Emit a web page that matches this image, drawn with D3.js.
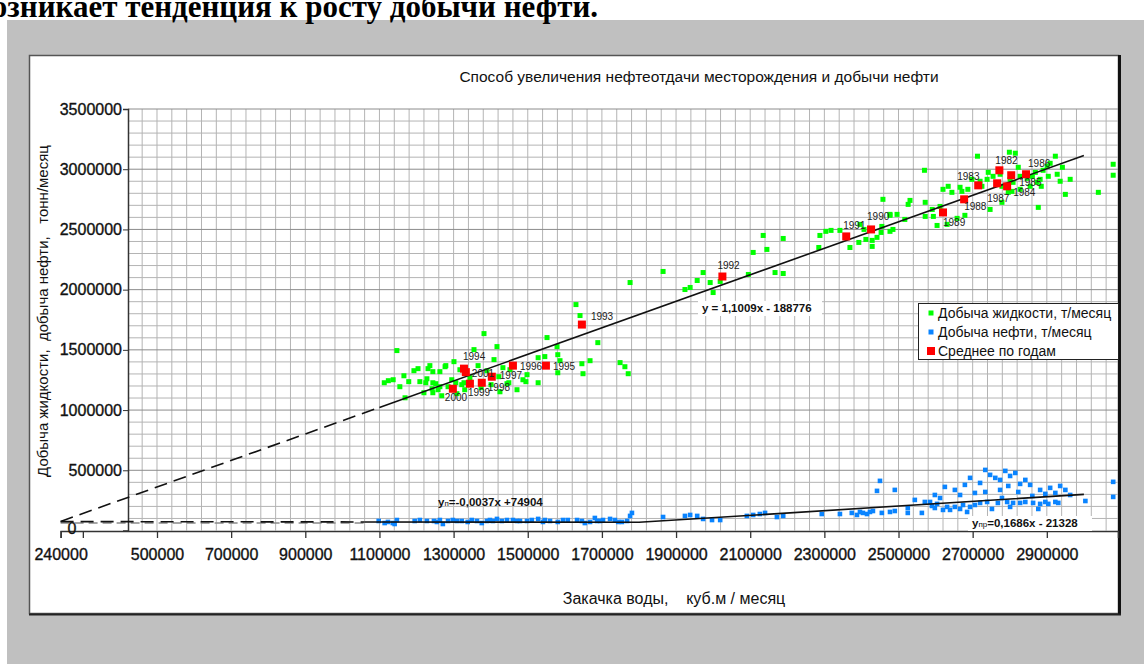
<!DOCTYPE html>
<html lang="ru">
<head>
<meta charset="utf-8">
<script src="https://d3js.org/d3.v7.min.js"></script>
<style>
  body { margin: 0; background: #fff; }
  svg text { font-family: "Liberation Sans", Arial, sans-serif; fill: #111; }
</style>
</head>
<body>
<svg id="chart" width="1144" height="664"></svg>
<script>
// ---- data ----
var xTicks = [240000, 300000, 500000, 700000, 900000, 1100000, 1300000, 1500000, 1700000, 1900000, 2100000, 2300000, 2500000, 2700000, 2900000];
var xTickLabels = ["240000", "", "500000", "700000", "900000", "1100000", "1300000", "1500000", "1700000", "1900000", "2100000", "2300000", "2500000", "2700000", "2900000"];
var yTicks = [500000, 1000000, 1500000, 2000000, 2500000, 3000000, 3500000];

// Добыча жидкости, т/месяц  [закачка, добыча]
var liquid = [
  [1113000,1227000],[1124000,1244000],[1137000,1252000],[1147000,1494000],[1155000,1194000],[1166000,1285000],
  [1169000,1102000],[1179000,1236000],[1193000,1327000],[1204000,1344000],[1209000,1236000],[1220000,1144000],
  [1228000,1260000],[1236000,1369000],[1242000,1177000],[1252000,1219000],[1263000,1319000],[1268000,1119000],
  [1279000,1369000],[1285000,1194000],[1295000,1252000],[1301000,1402000],[1309000,1136000],[1317000,1335000],
  [1322000,1211000],[1330000,1169000],[1344000,1269000],[1355000,1502000],[1366000,1369000],[1374000,1186000],
  [1382000,1635000],[1390000,1327000],[1401000,1211000],[1409000,1419000],[1417000,1527000],[1425000,1152000],
  [1433000,1352000],[1444000,1219000],[1452000,1335000],[1231000,1344000],[1244000,1319000],[1277000,1360000],
  [1225000,1227000],[1244000,1227000],[1263000,1194000],[1244000,1144000],[1258000,1169000],[1306000,1227000],
  [1328000,1227000],[1449000,1227000],[1422000,1277000],[1471000,1169000],[1487000,1252000],[1495000,1236000],
  [1498000,1294000],[1528000,1227000],[1528000,1435000],[1546000,1444000],[1552000,1602000],[1579000,1527000],
  [1581000,1460000],[1587000,1410000],[1581000,1310000],[1646000,1385000],[1649000,1302000],[1668000,1410000],
  [1630000,1876000],[1641000,1785000],[1689000,1560000],[1749000,1394000],[1762000,1360000],[1771000,1302000],
  [1776000,2059000],[1865000,2151000],[1924000,2001000],[1938000,2018000],[1957000,2076000],[1973000,2142000],
  [1992000,2059000],[2000000,1976000],[2019000,2068000],[2095000,2126000],[2108000,2309000],[2135000,2450000],
  [2145000,2334000],[2167000,2142000],[2189000,2134000],[2189000,2425000],[2288000,2450000],[2304000,2484000],
  [2318000,2492000],[2285000,2350000],[2342000,2492000],[2369000,2350000],[2393000,2392000],[2407000,2500000],
  [2429000,2409000],[2429000,2359000],[2453000,2475000],[2477000,2484000],[2477000,2625000],[2496000,2625000],
  [2458000,2750000],[2713000,3108000],[2570000,2991000],[2799000,3141000],[2815000,3133000],[2923000,3108000],
  [2531000,2741000],[2526000,2708000],[2572000,2725000],[2591000,2666000],[2594000,2608000],[2572000,2608000],
  [2612000,2691000],[2620000,2833000],[2634000,2858000],[2644000,2808000],[2666000,2850000],[2671000,2816000],
  [2687000,2833000],[2679000,2617000],[2658000,2592000],[2631000,2542000],[2604000,2533000],[2477000,2617000],
  [2485000,2500000],[2455000,2525000],[2698000,2916000],[2720000,2900000],[2739000,2916000],[2725000,2858000],
  [2742000,2974000],[2755000,2941000],[2774000,2958000],[2779000,2858000],[2801000,2916000],[2806000,2816000],
  [2809000,2891000],[2747000,2666000],[2779000,2725000],[2796000,2808000],[2823000,3016000],[2828000,2941000],
  [2847000,2924000],[2861000,2941000],[2869000,2974000],[2874000,2891000],[2882000,2916000],[2890000,2991000],
  [2901000,3024000],[2904000,2941000],[2909000,3049000],[2928000,2958000],[2877000,2683000],[2950000,2791000],
  [2885000,2858000],[2855000,2858000],[2828000,2833000],[3079000,3041000],[3079000,2950000],[3039000,2808000],
  [2942000,3016000],[2963000,2916000],[2936000,2900000],[2442000,2434000],[2412000,2417000],[2396000,2542000],
  [2517000,2583000]
];

// Добыча нефти, т/месяц
var oil = [
  [1098000,79000],[1123000,71000],[1136000,62000],[1147000,87000],[1209000,87000],[1228000,79000],[1247000,79000],
  [1255000,71000],[1271000,54000],[1285000,79000],[1298000,87000],[1309000,79000],[1322000,79000],[1363000,79000],
  [1376000,62000],[1390000,79000],[1398000,87000],[1406000,79000],[1417000,96000],[1430000,79000],[1460000,87000],
  [1471000,79000],[1479000,79000],[1498000,79000],[1528000,96000],[1541000,71000],[1560000,79000],[1581000,71000],
  [1595000,87000],[1633000,87000],[1646000,79000],[1654000,62000],[1668000,71000],[1687000,79000],[1703000,87000],
  [1722000,96000],[1754000,71000],[1768000,79000],[1776000,121000],[1781000,146000],[1865000,112000],[1924000,121000],
  [1938000,129000],[1957000,121000],[1973000,96000],[1997000,87000],[2019000,87000],[1114000,62000],[1141000,54000],
  [1195000,79000],[1263000,87000],[1338000,71000],[1349000,87000],[1444000,87000],[1511000,87000],[1546000,87000],
  [1608000,87000],[1681000,104000],[1695000,79000],[1735000,87000],[1744000,71000],
  [2091000,121000],[2108000,129000],[2126000,137000],[2140000,146000],[2172000,112000],[2189000,121000],[2293000,137000],
  [2342000,137000],[2374000,146000],[2388000,129000],[2396000,154000],[2404000,146000],[2415000,137000],[2423000,154000],
  [2431000,162000],[2442000,329000],[2455000,146000],[2477000,154000],[2490000,162000],[2525000,146000],[2525000,187000],
  [2563000,146000],[2585000,237000],[2590000,204000],[2598000,187000],[2604000,221000],[2620000,171000],[2631000,196000],
  [2639000,171000],[2652000,196000],[2666000,179000],[2674000,212000],[2685000,154000],[2693000,196000],[2706000,212000],
  [2720000,229000],[2739000,237000],[2752000,179000],[2768000,229000],[2793000,237000],[2801000,196000],[2809000,229000],
  [2828000,229000],[2842000,237000],[2863000,229000],[2877000,179000],[2882000,221000],[2896000,237000],[2904000,221000],
  [2923000,237000],[2931000,229000],[3004000,245000],
  [2450000,412000],[2490000,337000],[2544000,254000],[2598000,295000],[2625000,362000],[2652000,337000],[2679000,379000],
  [2693000,437000],[2720000,395000],[2734000,503000],[2747000,462000],[2761000,437000],[2774000,337000],[2788000,495000],
  [2801000,453000],[2815000,478000],[2828000,387000],[2842000,420000],[2855000,379000],[2882000,337000],[2896000,304000],
  [2909000,354000],[2936000,370000],[2963000,295000],[3079000,404000],[3079000,279000],[2734000,320000],[2666000,295000],
  [2779000,270000],[2823000,320000],[2861000,287000],[2923000,312000],[2950000,337000],[2612000,270000],[2706000,312000],
  [2571000,237000],[2774000,420000],[2796000,370000]
];

// Среднее по годам  [год, закачка, добыча]
var yearly = [
  [1982,2772000,2991000],[1983,2715000,2866000],[1984,2793000,2858000],[1985,2804000,2950000],
  [1986,2844000,2958000],[1987,2766000,2883000],[1988,2677000,2750000],[1989,2620000,2641000],
  [1990,2426000,2500000],[1991,2359000,2442000],[1992,2025000,2109000],[1993,1646000,1710000],
  [1994,1328000,1344000],[1995,1549000,1369000],[1996,1460000,1369000],[1997,1403000,1277000],
  [1998,1376000,1227000],[1999,1344000,1219000],[2000,1298000,1177000],[2001,1333000,1315000]
];

// trend lines (end points)
var liquidTrendDash = [[240000, 75000], [1100000, 1022000]];
var liquidTrend = [[1100000, 1022000], [3000000, 3114000]];
var oilTrendDash = [[240000, 74000], [1060000, 71000]];
var oilTrend = [[1060000, 71000], [1800000, 68000], [3000000, 300000]];
var oilGrayDash = [[240000, 62000], [1060000, 62000]];

// label placement of the year marks (px, relative to the square)
var yearLabelOffset = {
  1982:[-4,-6], 1983:[-21,-5], 1984:[6,10], 1985:[8,11], 1986:[2,-7], 1987:[-10,19], 1988:[0,11], 1989:[0,14],
  1990:[-4,-9], 1991:[-3,-7], 1992:[-5,-8], 1993:[9,-5], 1994:[-1,-9], 1995:[7,4], 1996:[7,4], 1997:[8,2],
  1998:[6,8], 1999:[-2,12], 2000:[-8,12], 2001:[6,5]
};

// ---- drawing ----
var svg = d3.select("#chart");

svg.append("rect").attr("x", 7).attr("y", 20).attr("width", 1137).attr("height", 644).attr("fill", "#c0c0c0");

// line of the surrounding document, cut at the top as in the scan
svg.append("text")
  .attr("x", 598).attr("y", 17)
  .attr("text-anchor", "end")
  .style("font-family", "'Liberation Serif', 'Times New Roman', serif")
  .style("font-weight", "bold")
  .style("font-size", "31px")
  .style("fill", "#000")
  .text("возникает тенденция к росту добычи нефти.");

// chart box
svg.append("rect").attr("x", 29.5).attr("y", 55.5).attr("width", 1089).attr("height", 558)
  .attr("fill", "#fff").attr("stroke", "#555").attr("stroke-width", 1.5);
svg.append("line").attr("x1", 1119.5).attr("x2", 1119.5).attr("y1", 55).attr("y2", 615)
  .attr("stroke", "#111").attr("stroke-width", 3);
svg.append("line").attr("x1", 29).attr("x2", 1121).attr("y1", 614.5).attr("y2", 614.5)
  .attr("stroke", "#222").attr("stroke-width", 2);

var x = d3.scaleLinear().domain([240000, 3092000]).range([60.6, 1118]);
var y = d3.scaleLinear().domain([0, 3500000]).range([530.5, 109]);

var plotLeft = 128, plotRight = 1118;

// grid
var grid = svg.append("g");
grid.selectAll(".vg").data(d3.range(460000, 3092000, 40000)).enter().append("line")
  .attr("x1", d => x(d)).attr("x2", d => x(d)).attr("y1", y(3500000)).attr("y2", y(0))
  .attr("stroke", "#b4b4b4").attr("stroke-width", 1);
grid.selectAll(".hg").data(d3.range(100000, 3500001, 100000)).enter().append("line")
  .attr("x1", plotLeft).attr("x2", plotRight).attr("y1", d => y(d)).attr("y2", d => y(d))
  .attr("stroke", d => d % 500000 === 0 ? "#8c8c8c" : "#b4b4b4").attr("stroke-width", 1);

// axes
var xAxis = d3.axisBottom(x).tickValues(xTicks).tickSize(7).tickPadding(11)
  .tickFormat((d, i) => xTickLabels[i]);
var gx = svg.append("g").attr("transform", "translate(0,531)").call(xAxis);
gx.select(".domain").attr("stroke", "#333").attr("stroke-width", 1.5);
gx.selectAll(".tick line").attr("stroke", "#333").attr("stroke-width", 1.3);
gx.selectAll("text").style("font-size", "16px").style("fill", "#111")
  .style("stroke", "#111").style("stroke-width", 0.35);

var yAxis = d3.axisLeft(y).tickValues(yTicks).tickSize(5).tickPadding(1)
  .tickFormat(d3.format("d"));
var gy = svg.append("g").attr("transform", "translate(" + plotLeft + ",0)").call(yAxis);
gy.select(".domain").attr("stroke", "#333").attr("stroke-width", 1.5);
gy.selectAll(".tick line").attr("stroke", "#333");
gy.selectAll("text").style("font-size", "16px").style("fill", "#111")
  .style("stroke", "#111").style("stroke-width", 0.35);

svg.append("text").attr("x", 72).attr("y", y(0) + 3).attr("text-anchor", "middle")
  .style("font-size", "16px").style("stroke", "#111").style("stroke-width", 0.35).text("0");

// axis titles
svg.append("text")
  .attr("transform", "translate(48,311) rotate(-90)")
  .attr("text-anchor", "middle")
  .style("font-size", "15px").style("white-space", "pre")
  .text("Добыча жидкости,  добыча нефти,   тонн/месяц");

svg.append("text")
  .attr("x", 674).attr("y", 604).attr("text-anchor", "middle")
  .style("font-size", "16px").style("white-space", "pre")
  .text("Закачка воды,    куб.м / месяц");

svg.append("text")
  .attr("x", 699).attr("y", 82).attr("text-anchor", "middle")
  .style("font-size", "15.5px")
  .text("Способ увеличения нефтеотдачи месторождения и добычи нефти");

// points
svg.append("g").selectAll("rect").data(liquid).enter().append("rect")
  .attr("x", d => x(d[0]) - 2.5).attr("y", d => y(d[1]) - 2.5)
  .attr("width", 5).attr("height", 5).attr("fill", "#00ff00");

svg.append("g").selectAll("rect").data(oil).enter().append("rect")
  .attr("x", d => x(d[0]) - 2.3).attr("y", d => y(d[1]) - 2.3)
  .attr("width", 4.6).attr("height", 4.6).attr("fill", "#0a84ff");

// trend lines
var line = d3.line().x(d => x(d[0])).y(d => y(d[1]));
svg.append("path").attr("d", line(oilGrayDash)).attr("fill", "none")
  .attr("stroke", "#8a8a8a").attr("stroke-width", 1.6).attr("stroke-dasharray", "9,5");
svg.append("path").attr("d", line(liquidTrendDash)).attr("fill", "none")
  .attr("stroke", "#111").attr("stroke-width", 1.6).attr("stroke-dasharray", "13,7");
svg.append("path").attr("d", line(oilTrendDash)).attr("fill", "none")
  .attr("stroke", "#111").attr("stroke-width", 1.6).attr("stroke-dasharray", "13,7");
svg.append("path").attr("d", line(liquidTrend)).attr("fill", "none")
  .attr("stroke", "#111").attr("stroke-width", 1.6);
svg.append("path").attr("d", line(oilTrend)).attr("fill", "none")
  .attr("stroke", "#111").attr("stroke-width", 1.6);

// yearly means
svg.append("g").selectAll("rect").data(yearly).enter().append("rect")
  .attr("x", d => x(d[1]) - 4).attr("y", d => y(d[2]) - 4)
  .attr("width", 8).attr("height", 8).attr("fill", "#ff0000");
svg.append("g").selectAll("text").data(yearly).enter().append("text")
  .attr("x", d => x(d[1]) + yearLabelOffset[d[0]][0])
  .attr("y", d => y(d[2]) + yearLabelOffset[d[0]][1])
  .style("font-size", "10px").style("fill", "#222")
  .text(d => d[0]);

// equations
function equation(tx, ty, main, sub, rest, bg) {
  if (bg) {
    svg.append("rect").attr("x", tx - 4).attr("y", ty - 11).attr("width", bg).attr("height", 15).attr("fill", "#fff");
  }
  var t = svg.append("text").attr("x", tx).attr("y", ty)
    .style("font-size", "11.5px").style("font-weight", "bold").style("fill", "#111");
  t.append("tspan").text(main);
  if (sub) t.append("tspan").style("font-size", "8px").style("font-weight", "normal").text(sub);
  t.append("tspan").text(rest);
}
equation(702, 312, "y = 1,1009x - 188776", "", "", 124);
equation(438, 506, "y", "п", "=-0,0037x +74904", 0);
equation(972, 527, "y", "пр", "=0,1686x - 21328", 124);

// legend
var lg = svg.append("g").attr("transform", "translate(918,303)");
lg.append("rect").attr("x", 0.5).attr("y", 0.5).attr("width", 200).attr("height", 56)
  .attr("fill", "#fff").attr("stroke", "#222").attr("stroke-width", 1);
var legendItems = [
  ["Добыча жидкости, т/месяц", "#00ff00", 5],
  ["Добыча нефти, т/месяц", "#0a84ff", 5],
  ["Среднее по годам", "#ff0000", 8]
];
legendItems.forEach(function(item, i) {
  var cy = 10 + i * 19;
  lg.append("rect").attr("x", 13 - item[2] / 2).attr("y", cy - item[2] / 2)
    .attr("width", item[2]).attr("height", item[2]).attr("fill", item[1]);
  lg.append("text").attr("x", 20).attr("y", cy + 5).style("font-size", "14px").text(item[0]);
});
</script>
</body>
</html>
